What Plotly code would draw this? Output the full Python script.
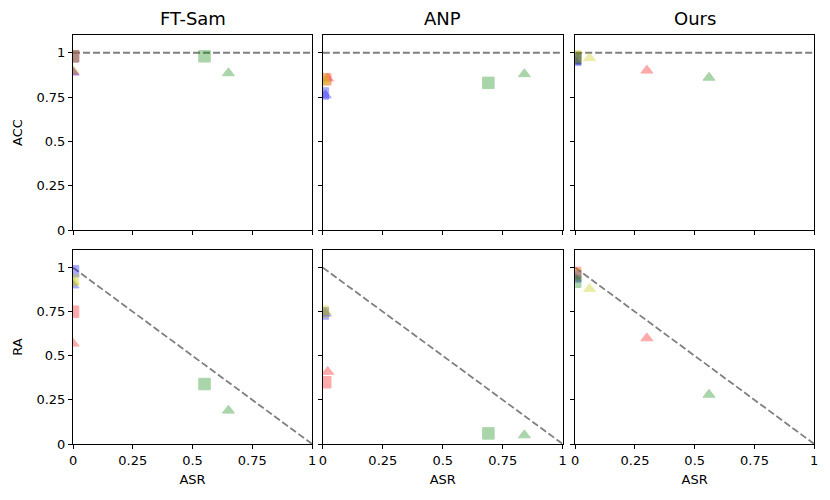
import plotly.graph_objects as go

methods = ["FT-Sam", "ANP", "Ours"]
colors = ["red", "blue", "#c8c800", "green"]  # attack colours
# per method: lists ordered by colours above
# square markers
sq_asr = {"FT-Sam": [0.0, 0.0, 0.0, 0.55], "ANP": [0.01, 0.0, 0.0, 0.69], "Ours": [0.0, 0.0, 0.0, 0.0]}
sq_acc = {"FT-Sam": [0.98, 0.98, 0.98, 0.98], "ANP": [0.85, 0.77, 0.85, 0.83], "Ours": [0.97, 0.96, 0.98, 0.97]}
sq_ra = {"FT-Sam": [0.75, 0.98, 0.93, 0.34], "ANP": [0.35, 0.74, 0.75, 0.06], "Ours": [0.97, 0.95, 0.96, 0.92]}
# triangle markers
tr_asr = {"FT-Sam": [0.0, 0.0, 0.0, 0.65], "ANP": [0.02, 0.01, 0.01, 0.84], "Ours": [0.30, 0.0, 0.06, 0.56]}
tr_acc = {"FT-Sam": [0.89, 0.89, 0.90, 0.885], "ANP": [0.855, 0.76, 0.84, 0.88], "Ours": [0.90, 0.95, 0.97, 0.86]}
tr_ra = {"FT-Sam": [0.57, 0.90, 0.92, 0.19], "ANP": [0.41, 0.74, 0.75, 0.05], "Ours": [0.60, 0.94, 0.88, 0.28]}

tick_vals = [0, 0.25, 0.5, 0.75, 1]
tick_text = ["0", "0.25", "0.5", "0.75", "1"]
ref_acc_x = [0, 1]
ref_acc_y = [1, 1]
ref_ra_x = [0, 1]
ref_ra_y = [1, 0]

fig = go.Figure()

xdomains = [[0.088, 0.376], [0.389, 0.678], [0.693, 0.981]]
ydomains = [[0.54, 0.93], [0.112, 0.50]]

FONT = "DejaVu Sans"
axis_idx = 0
for row, (metric, ref_x, ref_y, sqd, trd) in enumerate([
        ("ACC", ref_acc_x, ref_acc_y, sq_acc, tr_acc),
        ("RA", ref_ra_x, ref_ra_y, sq_ra, tr_ra)]):
    for col, m in enumerate(methods):
        axis_idx += 1
        sfx = "" if axis_idx == 1 else str(axis_idx)
        xa, ya = "x" + sfx, "y" + sfx
        fig.add_trace(go.Scatter(x=ref_x, y=ref_y, mode="lines", xaxis=xa, yaxis=ya,
                                 line=dict(color="gray", dash="7px,3px", width=1.8), showlegend=False))
        for i, c in enumerate(colors):
            fig.add_trace(go.Scatter(x=[sq_asr[m][i]], y=[sqd[m][i]], mode="markers", xaxis=xa, yaxis=ya,
                                     marker=dict(symbol="square", size=11.5, color=c, opacity=0.33,
                                                 line=dict(color=c, width=1)), showlegend=False))
            fig.add_trace(go.Scatter(x=[tr_asr[m][i]], y=[trd[m][i]], mode="markers", xaxis=xa, yaxis=ya,
                                     marker=dict(symbol="triangle-up", size=10.5, color=c, opacity=0.33,
                                                 line=dict(color=c, width=1)), showlegend=False))
        xkey = "xaxis" + sfx
        ykey = "yaxis" + sfx
        fig.update_layout(**{
            xkey: dict(domain=xdomains[col], anchor=ya, range=[0, 1], tickvals=tick_vals,
                       ticktext=tick_text, showticklabels=(row == 1), ticks="outside", ticklen=4,
                       tickcolor="black", showline=True, linecolor="black", linewidth=1.2, mirror=True,
                       showgrid=False, zeroline=False, automargin=False,
                       tickfont=dict(size=13, family=FONT),
                       title=dict(text="ASR" if row == 1 else "", font=dict(size=13, family=FONT), standoff=8)),
            ykey: dict(domain=ydomains[row], anchor=xa, range=[0, 1.1], tickvals=tick_vals,
                       ticktext=tick_text, showticklabels=(col == 0), ticks="outside", ticklen=4,
                       tickcolor="black", showline=True, linecolor="black", linewidth=1.2, mirror=True,
                       showgrid=False, zeroline=False, automargin=False,
                       tickfont=dict(size=13, family=FONT),
                       title=dict(text=metric if col == 0 else "", font=dict(size=13, family=FONT), standoff=10)),
        })

annotations = []
for col, m in enumerate(methods):
    annotations.append(dict(text=m, x=sum(xdomains[col]) / 2, y=0.937, xref="paper", yref="paper",
                            xanchor="center", yanchor="bottom", showarrow=False,
                            font=dict(size=18, family=FONT, color="black")))

fig.update_layout(width=830, height=500, margin=dict(l=0, r=0, t=0, b=0, autoexpand=False),
                  plot_bgcolor="white", paper_bgcolor="white",
                  font=dict(family=FONT, size=13, color="black"), annotations=annotations)

fig.write_html("out.html", config={"displayModeBar": False},
               post_script="document.body.style.margin='0';document.body.style.overflow='hidden';")
